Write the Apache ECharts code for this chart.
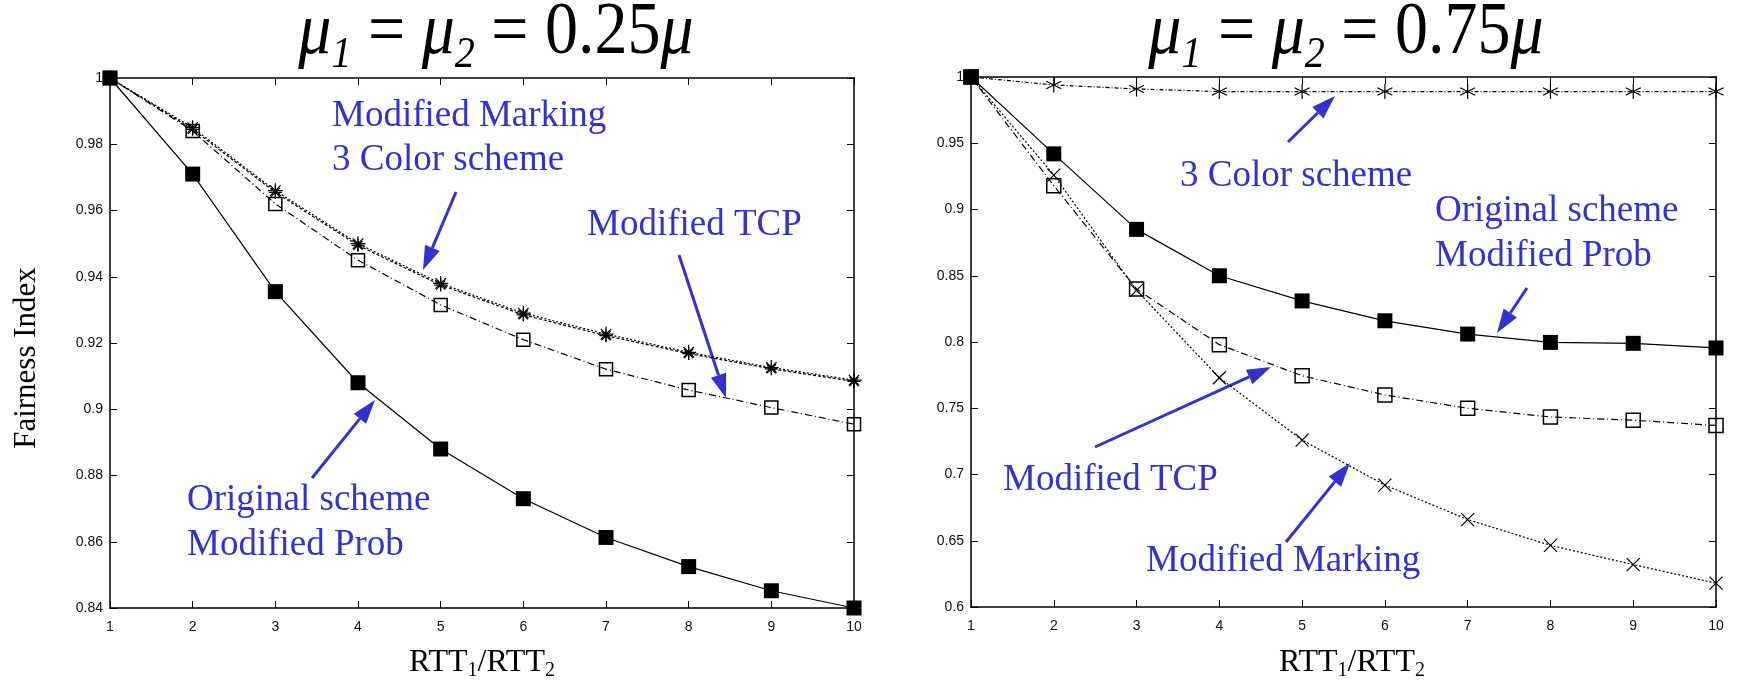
<!DOCTYPE html>
<html>
<head>
<meta charset="utf-8">
<script src="https://cdn.jsdelivr.net/npm/echarts@6/dist/echarts.min.js"></script>
<style>
  html, body { margin: 0; padding: 0; background: #fff; }
  #chart { width: 1737px; height: 696px; }
</style>
</head>
<body>
<div id="chart"></div>
<script>
// RTT1/RTT2 ratio on the x axis
const ratio = [1, 2, 3, 4, 5, 6, 7, 8, 9, 10];

// mu1 = mu2 = 0.25 mu
const origLeft  = [1.0, 0.971, 0.9355, 0.908, 0.888, 0.873, 0.8613, 0.8525, 0.8452, 0.840];
const tcpLeft   = [1.0, 0.984, 0.962, 0.945, 0.9315, 0.921, 0.9121, 0.9058, 0.9005, 0.8955];
const markLeft  = [1.0, 0.985, 0.966, 0.950, 0.938, 0.929, 0.9227, 0.9172, 0.9126, 0.9088];
const colorLeft = [1.0, 0.9845, 0.9655, 0.9495, 0.9375, 0.9285, 0.9222, 0.9168, 0.9122, 0.9084];

// mu1 = mu2 = 0.75 mu
const colorRight = [1.0, 0.994, 0.991, 0.989, 0.989, 0.989, 0.989, 0.989, 0.989, 0.989];
const origRight  = [1.0, 0.942, 0.885, 0.850, 0.831, 0.816, 0.806, 0.7997, 0.799, 0.7955];
const tcpRight   = [1.0, 0.918, 0.840, 0.798, 0.7745, 0.760, 0.750, 0.7434, 0.741, 0.737];
const markRight  = [1.0, 0.926, 0.839, 0.773, 0.726, 0.692, 0.666, 0.6465, 0.632, 0.618];

const blue = '#3333cc';
const serif = '"Liberation Serif", "Times New Roman", serif';
const sans = '"Liberation Sans Narrow", "Liberation Sans", Arial, sans-serif';

const asterisk8 = 'path://M0,-10L0,10M-10,0L10,0M-7,-7L7,7M-7,7L7,-7';
const asterisk6 = 'path://M0,-10L0,10M-8.7,-5L8.7,5M-8.7,5L8.7,-5';
const cross = 'path://M-10,-10L10,10M-10,10L10,-10';

const grids = [
    { left: 110, top: 78, width: 744, height: 530 },
    { left: 971, top: 77, width: 745, height: 530 }
];

const xAxisBase = (gi, pos) => ({
    type: 'value', gridIndex: gi, position: pos, min: 1, max: 10, interval: 1,
    axisLine: { show: true, onZero: false, lineStyle: { color: '#000', width: 1.5 } },
    axisTick: { show: true, inside: true, length: 7, lineStyle: { color: '#000', width: 1 } },
    axisLabel: { show: pos === 'bottom', color: '#111', fontFamily: sans, fontSize: 14, margin: 12 },
    splitLine: { show: false }
});

const yAxisBase = (gi, pos, min, interval) => ({
    type: 'value', gridIndex: gi, position: pos, min: min, max: 1, interval: interval,
    axisLine: { show: true, onZero: false, lineStyle: { color: '#000', width: 1.5 } },
    axisTick: { show: true, inside: true, length: 7, lineStyle: { color: '#000', width: 1 } },
    axisLabel: { show: pos === 'left', color: '#111', fontFamily: sans, fontSize: 14, margin: 7 },
    splitLine: { show: false }
});

const line = (name, axis, vals, symbol, size, item, dash, z) => ({
    name: name, type: 'line', xAxisIndex: axis, yAxisIndex: axis,
    data: ratio.map((r, i) => [r, vals[i]]),
    symbol: symbol, symbolSize: size, showAllSymbol: true,
    itemStyle: item,
    lineStyle: { color: '#000', width: 1.2, type: dash },
    z: z
});

const filled = { color: '#000' };
const hollow = { color: 'none', borderColor: '#000', borderWidth: 1.5 };
const stroke = { color: 'none', borderColor: '#000', borderWidth: 1.2 };

const series = [
    line('Modified Marking', 0, markLeft, asterisk8, 15, stroke, [2, 2], 2),
    line('3 Color scheme', 0, colorLeft, asterisk8, 13, stroke, [3, 2], 2),
    line('Modified TCP', 0, tcpLeft, 'rect', 13, hollow, [7, 3, 1, 3], 3),
    line('Original scheme', 0, origLeft, 'rect', 15, filled, 'solid', 4),

    line('3 Color scheme', 2, colorRight, asterisk6, 15, stroke, [4, 2, 1, 2], 2),
    line('Modified Marking', 2, markRight, cross, 13, stroke, [2, 2], 2),
    line('Modified TCP', 2, tcpRight, 'rect', 14, hollow, [7, 3, 1, 3], 3),
    line('Original scheme', 2, origRight, 'rect', 15, filled, 'solid', 4)
];

// blue annotation labels: [text, x, baseline]
const notes = [
    ['Modified Marking', 332, 128], ['3 Color scheme', 332, 172],
    ['Modified TCP', 587, 237],
    ['Original scheme', 187, 512], ['Modified Prob', 187, 557],
    ['3 Color scheme', 1180, 188],
    ['Original scheme', 1435, 223], ['Modified Prob', 1435, 268],
    ['Modified TCP', 1003, 492],
    ['Modified Marking', 1146, 573]
];

// arrows: [fromX, fromY, tipX, tipY]
const arrows = [
    [456, 192, 423, 270],
    [679, 255, 726, 398],
    [312, 478, 375, 400],
    [1288, 142, 1335, 96],
    [1527, 288, 1497, 333],
    [1095, 447, 1271, 367],
    [1286, 542, 1350, 463]
];

const arrowShapes = (x1, y1, x2, y2) => {
    const a = Math.atan2(y2 - y1, x2 - x1), L = 24, W = 8;
    const bx = x2 - L * Math.cos(a), by = y2 - L * Math.sin(a);
    return [
        { type: 'line', shape: { x1: x1, y1: y1, x2: bx, y2: by }, style: { stroke: blue, lineWidth: 3 } },
        { type: 'polygon', shape: { points: [[x2, y2], [bx + W * Math.sin(a), by - W * Math.cos(a)], [bx - W * Math.sin(a), by + W * Math.cos(a)]] },
          style: { fill: blue } }
    ];
};

// titles are laid out piece by piece so the serif font is kept
const measure = document.createElement('canvas').getContext('2d');
const textWidth = (t, font) => { measure.font = font; return measure.measureText(t).width; };

const titleGroup = (v, cx) => {
    const big = 66, small = 40;
    const parts = [
        ['μ', 'italic', big, 0], ['1', 'italic', small, 19], [' = ', 'normal', big, 0],
        ['μ', 'italic', big, 0], ['2', 'italic', small, 19], [' = ' + v, 'normal', big, 0],
        ['μ', 'italic', big, 0]
    ];
    const fonts = parts.map(p => p[1] + ' ' + p[2] + 'px ' + serif);
    const total = parts.reduce((s, p, i) => s + textWidth(p[0], fonts[i]), 0);
    let x = -total / 2;
    const children = parts.map((p, i) => {
        const el = { type: 'text', x: x, y: p[3],
            style: { text: p[0], font: fonts[i], fill: '#000', align: 'left', verticalAlign: 'middle' } };
        x += textWidth(p[0], fonts[i]);
        return el;
    });
    return { type: 'group', x: cx, y: 34, scaleY: 1.12, children: children };
};

const nameRich = {
    n: { fontFamily: serif, fontSize: 32, lineHeight: 36, verticalAlign: 'middle' },
    s: { fontFamily: serif, fontSize: 20, lineHeight: 16, verticalAlign: 'bottom' }
};

const graphics = [];
notes.forEach(([t, x, b]) => graphics.push({
    type: 'text', x: x, y: b - 12,
    style: { text: t, fill: blue, font: '37px ' + serif, align: 'left', verticalAlign: 'middle' }
}));
arrows.forEach(a => graphics.push(...arrowShapes(...a)));

graphics.push(titleGroup('0.25', 496), titleGroup('0.75', 1346));
[482, 1352].forEach(cx => graphics.push({
    type: 'text', x: cx, y: 663,
    style: { text: '{n|RTT}{s|1}{n|/RTT}{s|2}', rich: nameRich, fill: '#000', align: 'center', verticalAlign: 'middle' }
}));
graphics.push({
    type: 'text', x: 27, y: 358, rotation: Math.PI / 2,
    style: { text: 'Fairness Index', fill: '#000', font: '31px ' + serif, align: 'center', verticalAlign: 'middle' }
});

const chart = echarts.init(document.getElementById('chart'));
chart.setOption({
    animation: false,
    backgroundColor: '#fff',
    grid: grids,
    xAxis: [xAxisBase(0, 'bottom'), xAxisBase(0, 'top'), xAxisBase(1, 'bottom'), xAxisBase(1, 'top')],
    yAxis: [yAxisBase(0, 'left', 0.84, 0.02), yAxisBase(0, 'right', 0.84, 0.02),
            yAxisBase(1, 'left', 0.6, 0.05), yAxisBase(1, 'right', 0.6, 0.05)],
    series: series,
    graphic: graphics
});
</script>
</body>
</html>
